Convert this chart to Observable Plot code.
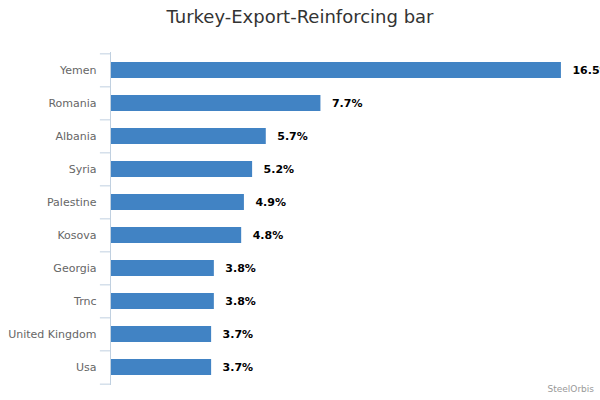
<!DOCTYPE html>
<html>
<head>
<meta charset="utf-8">
<script src="https://cdn.jsdelivr.net/npm/d3@7"></script>
<script src="https://cdn.jsdelivr.net/npm/@observablehq/plot@0.6"></script>
<style>
  html, body { margin: 0; padding: 0; background: #fff; overflow: hidden; }
  #wrap { position: relative; width: 600px; height: 400px; font-family: "DejaVu Sans", sans-serif; }
  #title { position: absolute; left: 0; top: 6px; width: 600px; text-align: center; font-size: 18px; color: #333; }
  #credit { position: absolute; right: 6px; top: 384px; font-size: 9px; color: #999; }
  #chart { position: absolute; left: 0; top: 0; }
</style>
</head>
<body>
<div id="wrap">
  <div id="chart"></div>
  <div id="title">Turkey-Export-Reinforcing bar</div>
  <div id="credit">SteelOrbis</div>
</div>
<script>
const countries = ["Yemen", "Romania", "Albania", "Syria", "Palestine", "Kosova", "Georgia", "Trnc", "United Kingdom", "Usa"];
const shares = [16.5, 7.7, 5.7, 5.2, 4.9, 4.8, 3.8, 3.8, 3.7, 3.7];

const data = countries.map((c, i) => ({country: c, share: shares[i]}));

const W = 600, H = 400;
const mTop = 52, mBottom = 15, mLeft = 110, mRight = 0;
const step = (H - mTop - mBottom) / countries.length;
const axisColor = "#C0D0E0";

const plot = Plot.plot({
  width: W,
  height: H,
  marginTop: mTop,
  marginBottom: mBottom,
  marginLeft: mLeft,
  marginRight: mRight,
  style: {fontFamily: "DejaVu Sans, sans-serif", background: "transparent", overflow: "visible"},
  x: {domain: [0, 17.93], axis: null},
  y: {domain: countries, paddingInner: 0.52, paddingOuter: 0.26, label: null},
  marks: [
    Plot.axisY({tickSize: 0, tickPadding: 14, fontSize: 11, fill: "#666", label: null}),
    Plot.barX(data, {x: "share", y: "country", fill: "#4183C4"}),
    Plot.ruleX([0], {stroke: axisColor, strokeWidth: 1}),
    Plot.ruleY(countries, {y: d => d, x1: -0.37, x2: 0, dy: -step / 2, stroke: axisColor}),
    Plot.ruleY([countries[countries.length - 1]], {y: d => d, x1: -0.37, x2: 0, dy: step / 2, stroke: axisColor}),
    Plot.text(data, {x: "share", y: "country", text: d => d.share + "%", dx: 11, textAnchor: "start", fontWeight: "bold", fontSize: 11, fill: "#000"})
  ]
});
document.getElementById("chart").appendChild(plot);
</script>
</body>
</html>
